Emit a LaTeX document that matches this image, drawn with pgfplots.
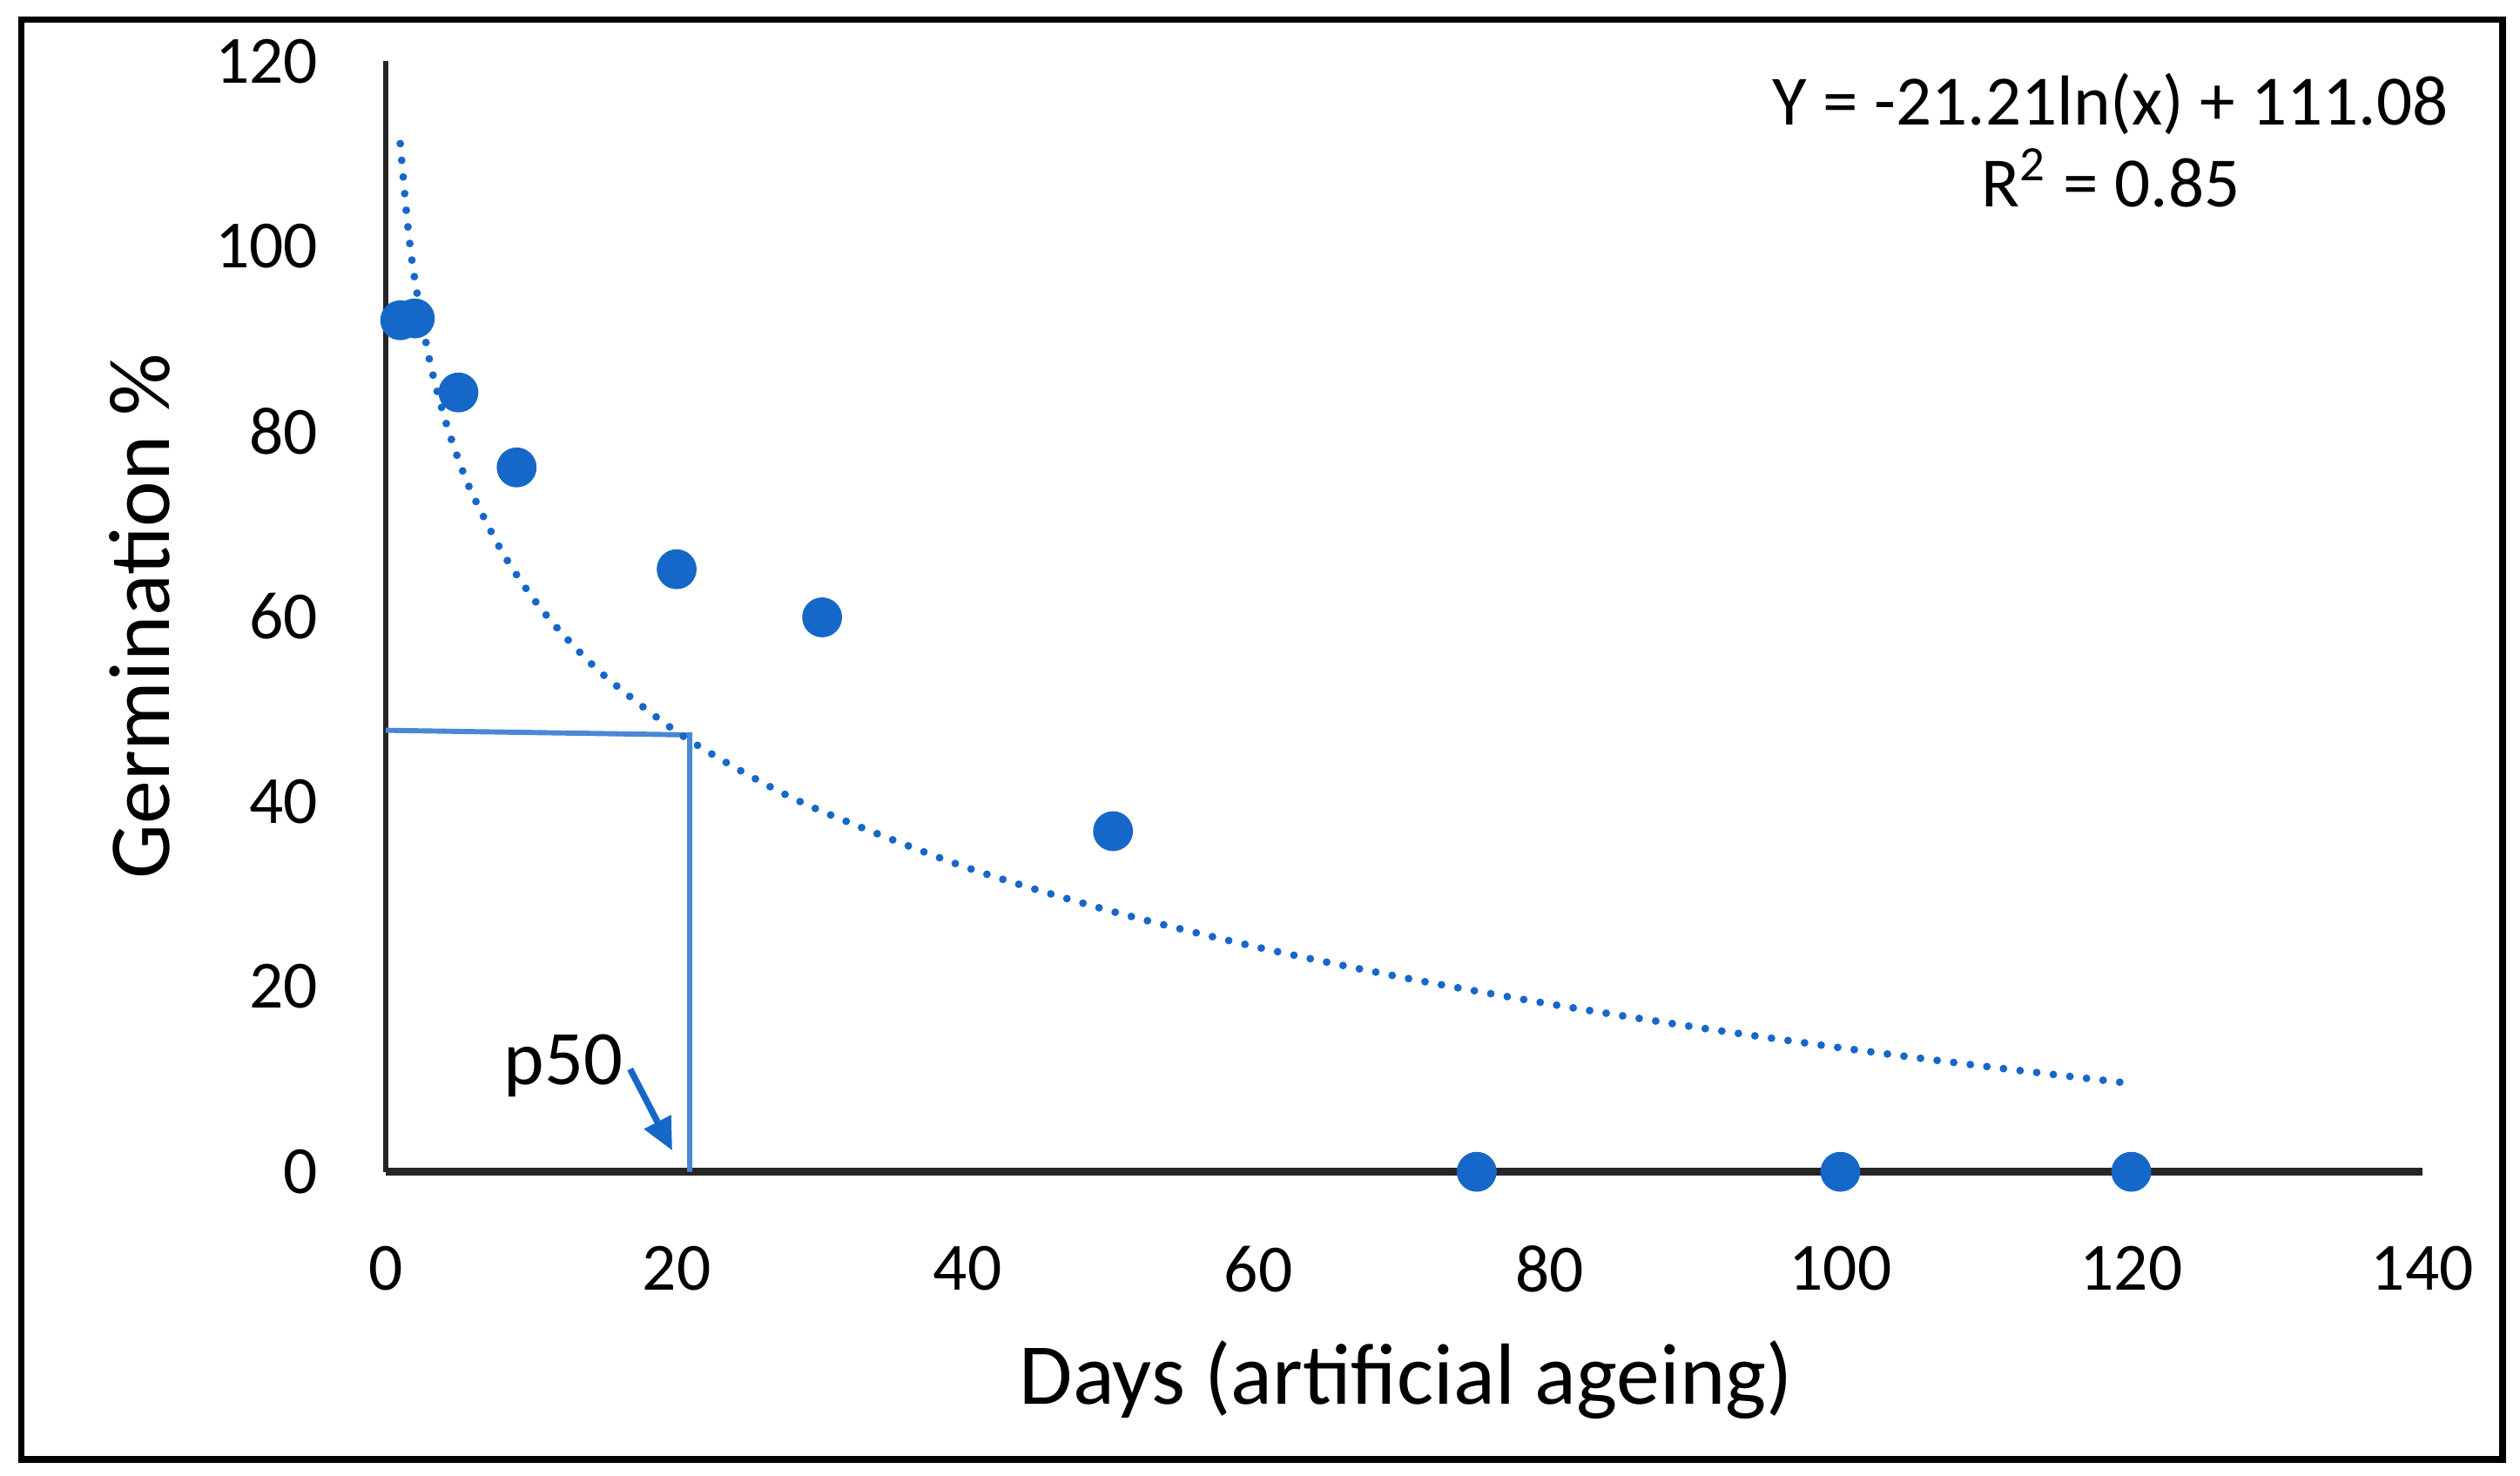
\documentclass[border=0pt]{standalone}
\usepackage{pgfplots}
\pgfplotsset{compat=1.18}
\usepackage{fontspec}
\setmainfont{Carlito}
\usetikzlibrary{arrows.meta}
\definecolor{dotblue}{RGB}{22,104,200}
\definecolor{lineblue}{RGB}{74,136,214}

\pgfplotstableread{
x y
1 92.0
2 92.2
5 84.2
9 76.1
20 65.1
30 59.9
50 36.8
75 0
100 0
120 0
}\germ

% points read along the dotted log trendline
\pgfplotstableread{
x y
1 111.08
1.5 102.48
2 96.38
3 87.78
4 81.68
5 76.94
6 73.08
8 66.98
10 62.24
12 58.38
15 53.64
20 47.54
25 42.81
30 38.94
40 32.84
50 28.11
60 24.24
70 20.97
80 18.14
90 15.64
100 13.40
110 11.38
120 9.54
}\trend

\begin{document}
\begin{tikzpicture}
\begin{axis}[
  scale only axis,
  width=316.75pt, height=172.75pt,
  xmin=0, xmax=140, ymin=0, ymax=120,
  axis lines*=left,
  x axis line style={line width=1.15pt, black!85},
  y axis line style={line width=0.75pt, black!85},
  xtick={0,20,...,140}, ytick={0,20,...,120},
  major tick length=0pt,
  /pgf/number format/assume math mode=true,
  ticklabel style={font=\fontsize{10.5}{12}\selectfont},
  xticklabel style={yshift=-8pt},
  yticklabel style={xshift=-7pt},
  xlabel={Days (artificial ageing)},
  ylabel={Germination \%},
  label style={font=\fontsize{13.5}{15}\selectfont},
  xlabel style={at={(rel axis cs:0.501,-0.187)}, anchor=center},
  ylabel style={at={(rel axis cs:-0.121,0.5)}, anchor=center},
  clip=false,
]
\path (rel axis cs:-0.1894,-0.2735) rectangle (rel axis cs:1.048,1.055);
\draw[line width=1pt] (rel axis cs:-0.179,-0.259) rectangle (rel axis cs:1.0395,1.0376);

\addplot[lineblue, line width=0.8pt] coordinates {(0,47.7) (20.9,47.2) (20.9,0)};
\addplot[dotblue, line width=1.2pt, line cap=round, dash pattern=on 0pt off 2.6pt, smooth] table {\trend};
\addplot[only marks, mark=*, mark size=2.9pt, dotblue, mark options={draw=dotblue, fill=dotblue}] table {\germ};
\addplot[dotblue, line width=1pt, -{Triangle[length=5pt,width=4.5pt]}] coordinates {(16.8,11.1) (19.7,2.3)};

\node[anchor=base, font=\fontsize{12}{14}\selectfont] at (axis cs:12.2,9.4) {p50};
\node[align=center, font=\fontsize{11}{12.75}\selectfont] at (rel axis cs:0.847,0.929)
  {Y = -21.21ln(x) + 111.08\\R\textsuperscript{2} = 0.85};
\end{axis}
\end{tikzpicture}
\end{document}
